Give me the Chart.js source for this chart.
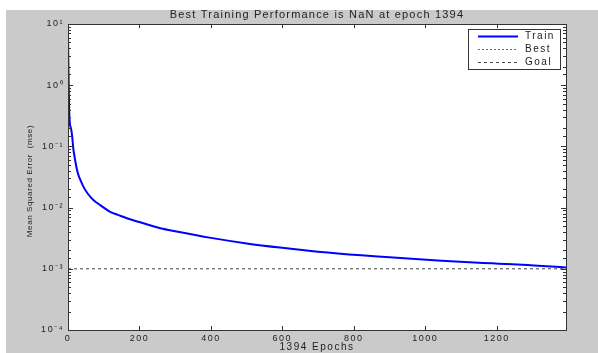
<!DOCTYPE html>
<html lang="en">
  <head>
    <meta charset="UTF-8" />
    <title>Best Training Performance</title>
    <script src="https://cdn.jsdelivr.net/npm/chart.js@4"></script>
    <style>
      html, body { margin: 0; padding: 0; background: #fff; }
      #wrap { width: 598px; height: 353px; position: relative; }
    </style>
  </head>
  <body>
    <div id="wrap"><canvas id="perfChart"></canvas></div>
    <script>
      // values
      const epochs = [0, 1, 2, 3, 4, 6, 9, 12, 15, 18, 21, 25, 30, 35, 43, 55, 71, 90, 118, 140, 165, 200, 259, 300, 400, 500, 600, 700, 821, 900, 1046, 1150, 1271, 1394];
      const trainMse = [7, 2.5, 1.0, 0.5, 0.3, 0.22, 0.19, 0.14, 0.09, 0.07, 0.055, 0.042, 0.033, 0.028, 0.022, 0.017, 0.0133, 0.011, 0.0085, 0.0076, 0.0067, 0.0058, 0.0046, 0.0041, 0.0032, 0.0026, 0.0022, 0.0019, 0.00166, 0.00155, 0.00135, 0.00125, 0.00117, 0.00105];
      const bestMse = []; // NaN, nothing drawn
      const goalMse = 1e-3;
      const lastEpoch = 1394;
      const xTicks = [0, 200, 400, 600, 800, 1000, 1200];

      const titleText = "Best Training Performance is NaN at epoch 1394";
      const xTitle = "1394 Epochs";
      const yTitle = "Mean Squared Error  (mse)";

      const supMap = { "-": "\u207B", "0": "\u2070", "1": "\u00B9", "2": "\u00B2", "3": "\u00B3", "4": "\u2074" };
      function sup(n) {
        return String(n).split("").map((c) => supMap[c]).join("");
      }
      function isDecade(v) {
        const p = Math.log10(v);
        return Math.abs(p - Math.round(p)) < 1e-9;
      }

      const textColor = "#222";

      // figure background, axes box, inward ticks, titles and legend
      const matlabLook = {
        id: "matlabLook",
        beforeDraw(chart) {
          const ctx = chart.ctx;
          const a = chart.chartArea;
          ctx.save();
          ctx.fillStyle = "#ffffff";
          ctx.fillRect(0, 0, chart.width, chart.height);
          ctx.fillStyle = "#cacaca";
          ctx.fillRect(6, 10, chart.width - 6, chart.height - 10);
          ctx.fillStyle = "#ffffff";
          ctx.fillRect(a.left, a.top, a.right - a.left, a.bottom - a.top);
          ctx.restore();
          ctx.letterSpacing = "1.5px";
        },
        afterDraw(chart) {
          const ctx = chart.ctx;
          const a = chart.chartArea;
          const xs = chart.scales.x;
          const ys = chart.scales.y;
          ctx.save();
          ctx.strokeStyle = "#333";
          ctx.lineWidth = 1;

          // ticks pointing into the plot
          ctx.beginPath();
          ys.ticks.forEach((t) => {
            const y = Math.round(ys.getPixelForValue(t.value)) + 0.5;
            const len = isDecade(t.value) ? 5 : 3;
            ctx.moveTo(a.left, y);
            ctx.lineTo(a.left + len, y);
            ctx.moveTo(a.right, y);
            ctx.lineTo(a.right - len, y);
          });
          xs.ticks.forEach((t) => {
            const x = Math.round(xs.getPixelForValue(t.value)) + 0.5;
            ctx.moveTo(x, a.bottom);
            ctx.lineTo(x, a.bottom - 4);
            ctx.moveTo(x, a.top);
            ctx.lineTo(x, a.top + 4);
          });
          ctx.stroke();
          ctx.strokeRect(a.left + 0.5, a.top + 0.5, a.right - a.left, a.bottom - a.top);

          // texts
          ctx.fillStyle = textColor;
          ctx.textAlign = "center";
          ctx.textBaseline = "middle";
          ctx.font = "11px 'Liberation Sans', Arial, sans-serif";
          ctx.letterSpacing = "1.2px";
          ctx.fillText(titleText, (a.left + a.right) / 2, 15);
          ctx.font = "10px 'Liberation Sans', Arial, sans-serif";
          ctx.letterSpacing = "1.5px";
          ctx.fillText(xTitle, (a.left + a.right) / 2, 347);
          ctx.save();
          ctx.translate(30, 181);
          ctx.rotate(-Math.PI / 2);
          ctx.font = "8px 'Liberation Sans', Arial, sans-serif";
          ctx.letterSpacing = "0.6px";
          ctx.fillText(yTitle, 0, 0);
          ctx.restore();

          // legend box in the upper right corner
          const bw = 92, bh = 40;
          const bx = a.right - 6 - bw, by = a.top + 5;
          ctx.fillStyle = "#ffffff";
          ctx.fillRect(bx, by, bw, bh);
          ctx.strokeStyle = "#333";
          ctx.strokeRect(bx + 0.5, by + 0.5, bw, bh);
          ctx.font = "10px 'Liberation Sans', Arial, sans-serif";
          ctx.letterSpacing = "1.5px";
          ctx.textAlign = "left";
          chart.data.datasets.forEach((ds, i) => {
            const y = by + 7 + i * 13 + 0.5;
            ctx.beginPath();
            ctx.strokeStyle = ds.borderColor;
            ctx.lineWidth = ds.borderWidth;
            ctx.setLineDash(ds.borderDash || []);
            ctx.moveTo(bx + 10, y);
            ctx.lineTo(bx + 50, y);
            ctx.stroke();
            ctx.setLineDash([]);
            ctx.fillStyle = textColor;
            ctx.fillText(ds.label, bx + 57, y);
          });
          ctx.restore();
        },
      };

      const ctx = document.getElementById("perfChart").getContext("2d");
      const perfChart = new Chart(ctx, {
        type: "line",
        data: {
          datasets: [
            {
              label: "Train",
              data: epochs.map((e, i) => ({ x: e, y: trainMse[i] })),
              borderColor: "#0000ff",
              borderWidth: 2,
              pointRadius: 0,
              cubicInterpolationMode: "monotone",
            },
            {
              label: "Best",
              data: bestMse,
              borderColor: "#5c5cf0",
              borderWidth: 1,
              borderDash: [2, 2],
              pointRadius: 0,
            },
            {
              label: "Goal",
              data: [
                { x: 0, y: goalMse },
                { x: lastEpoch, y: goalMse },
              ],
              borderColor: "#444",
              borderWidth: 1,
              borderDash: [3, 3],
              pointRadius: 0,
            },
          ],
        },
        options: {
          responsive: true,
          maintainAspectRatio: false,
          animation: false,
          layout: { padding: { top: 24, right: 32, left: 0, bottom: 0 } },
          plugins: {
            legend: { display: false },
            title: { display: false },
            tooltip: { enabled: false },
          },
          scales: {
            x: {
              type: "linear",
              min: 0,
              max: lastEpoch,
              grid: { display: false, drawTicks: false },
              border: { display: false },
              afterBuildTicks: (s) => {
                s.ticks = xTicks.map((v) => ({ value: v }));
              },
              afterFit: (s) => {
                s.height = 23;
              },
              ticks: {
                autoSkip: false,
                maxRotation: 0,
                padding: 3,
                color: textColor,
                font: { family: "'Liberation Sans', Arial, sans-serif", size: 9 },
                callback: (v) => String(v),
              },
            },
            y: {
              type: "logarithmic",
              min: 1e-4,
              max: 10,
              grid: { display: false, drawTicks: false },
              border: { display: false },
              afterFit: (s) => {
                s.width = 68;
              },
              ticks: {
                autoSkip: false,
                padding: 4,
                color: textColor,
                font: { family: "'Liberation Sans', Arial, sans-serif", size: 9 },
                callback: (v) => (isDecade(v) ? "10" + sup(Math.round(Math.log10(v))) : ""),
              },
            },
          },
        },
        plugins: [matlabLook],
      });
    </script>
  </body>
</html>
